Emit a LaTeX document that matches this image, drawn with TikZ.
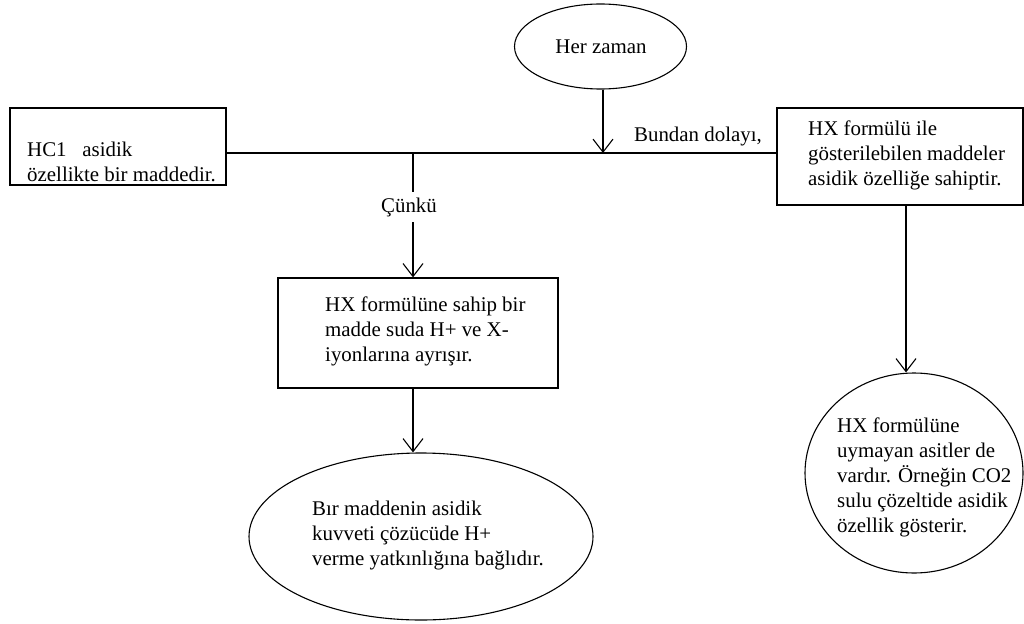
\documentclass[tikz,border=0pt]{standalone}
\usepackage{fontspec}
\setmainfont{Liberation Serif}
\usetikzlibrary{shapes.geometric,arrows.meta}
\begin{document}
\begin{tikzpicture}[x=1pt,y=-1pt,
  every node/.style={font=\fontsize{20.9}{25}\selectfont},
  frame/.style={draw, line width=1.2pt, rectangle, inner sep=0pt},
  oval/.style={draw, line width=1.1pt, ellipse, inner sep=0pt},
  txt/.style={align=left, inner sep=0pt},
  link/.style={line width=1.1pt},
  arr/.style={line width=1.1pt, -{Straight Barb[length=13pt,width=20pt,line width=1.1pt]}}]
\useasboundingbox (0,0) rectangle (1024,623);

% junction points on the connecting lines
\coordinate (jL) at (413,153);
\coordinate (jT) at (603,153);
\coordinate (jR) at (906,0);

% boxes
\node[frame, minimum width=216, minimum height=77] (hcl) at (118,146.5) {};
\node[txt, anchor=west] (hclt) at (27,161.5) {HC1~~~asidik\\özellikte bir maddedir.};

\node[frame, minimum width=246, minimum height=97] (hx) at (900,156.5) {};
\node[txt, anchor=west] (hxt) at (808,155) {HX formülü ile\\gösterilebilen maddeler\\asidik özelliğe sahiptir.};

\node[frame, minimum width=280, minimum height=110] (mid) at (418,333) {};
\node[txt, anchor=west] (midt) at (325,331) {HX formülüne sahip bir\\madde suda H+ ve X-\\iyonlarına ayrışır.};

% ovals
\node[oval, minimum width=172, minimum height=85] (herz) at (600.5,46.5) {};
\node[txt] (herzt) at (601,47) {Her zaman};

\node[oval, minimum width=344, minimum height=167] (bir) at (421,536.5) {};
\node[txt, anchor=west] (birt) at (312,535) {Bır maddenin asidik\\kuvveti çözücüde H+\\verme yatkınlığına bağlıdır.};

\node[oval, minimum width=218, minimum height=200] (co2) at (914,473) {};
\node[txt, anchor=west] (co2t) at (837,477) {HX formülüne\\uymayan asitler de\\vardır. Örneğin CO2\\sulu çözeltide asidik\\özellik gösterir.};

% labels on the connectors
\node[txt] (bundan) at (698,137) {Bundan dolayı,};
\node[txt, minimum height=30] (cunku) at (409,207) {Çünkü};

% connectors
\draw[link] (hcl.east |- jL) -- (hx.west |- jL);
\draw[arr] (herz.south -| jT) -- (jT);
\draw[link] (jL) -- (jL |- cunku.north);
\draw[arr] (jL |- cunku.south) -- (mid.north -| jL);
\draw[arr] (mid.south -| jL) -- (bir.north -| jL);
\draw[arr] (hx.south -| jR) -- (co2.north -| jR);
\end{tikzpicture}
\end{document}
